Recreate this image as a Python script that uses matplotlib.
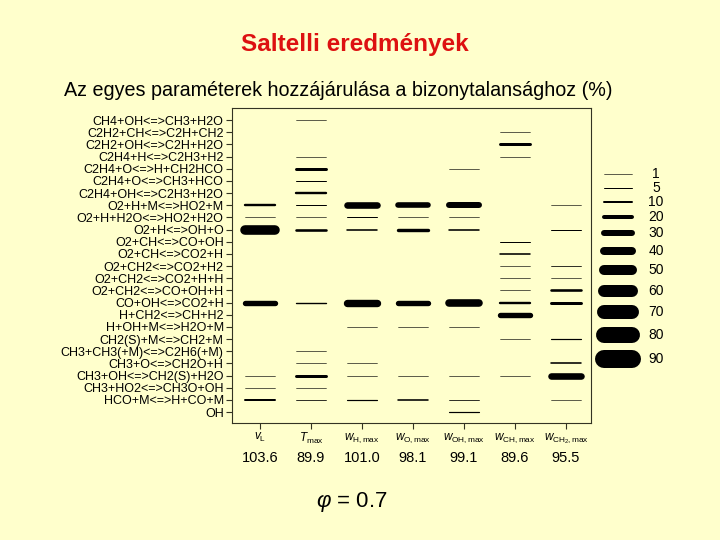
import matplotlib.pyplot as plt
import numpy as np

plt.rcParams['font.family'] = ['Liberation Sans', 'DejaVu Sans']
plt.rcParams['mathtext.fontset'] = 'custom'
plt.rcParams['mathtext.rm'] = 'Liberation Sans'
plt.rcParams['mathtext.it'] = 'Liberation Sans:italic'

# Reakciók (sorok)
reakciok = [
    "CH4+OH<=>CH3+H2O", "C2H2+CH<=>C2H+CH2", "C2H2+OH<=>C2H+H2O",
    "C2H4+H<=>C2H3+H2", "C2H4+O<=>H+CH2HCO", "C2H4+O<=>CH3+HCO",
    "C2H4+OH<=>C2H3+H2O", "O2+H+M<=>HO2+M", "O2+H+H2O<=>HO2+H2O",
    "O2+H<=>OH+O", "O2+CH<=>CO+OH", "O2+CH<=>CO2+H",
    "O2+CH2<=>CO2+H2", "O2+CH2<=>CO2+H+H", "O2+CH2<=>CO+OH+H",
    "CO+OH<=>CO2+H", "H+CH2<=>CH+H2", "H+OH+M<=>H2O+M",
    "CH2(S)+M<=>CH2+M", "CH3+CH3(+M)<=>C2H6(+M)", "CH3+O<=>CH2O+H",
    "CH3+OH<=>CH2(S)+H2O", "CH3+HO2<=>CH3O+OH", "HCO+M<=>H+CO+M", "OH",
]

# Oszlopok és összegek
oszlopok = [r"$v_\mathrm{L}$", r"$T_\mathrm{max}$", r"$w_\mathrm{H,max}$",
            r"$w_\mathrm{O,max}$", r"$w_\mathrm{OH,max}$", r"$w_\mathrm{CH,max}$",
            r"$w_{\mathrm{CH}_2\mathrm{,max}}$"]
osszeg = [103.6, 89.9, 101.0, 98.1, 99.1, 89.6, 95.5]

# Hozzájárulások (%) soronként, oszloponként
vL   = [0, 0, 0, 0, 0, 0, 0, 12, 3, 48, 0, 0, 0, 0, 0, 27, 0, 0, 0, 0, 0, 3, 1, 10, 0]
Tmax = [1, 0, 0, 1, 15, 5, 12, 5, 2, 13, 0, 0, 0, 0, 0, 7, 0, 0, 0, 2, 3, 15, 1, 4, 0]
wH   = [0, 0, 0, 0, 0, 0, 0, 33, 5, 8, 0, 0, 0, 0, 0, 37, 0, 3, 0, 0, 1, 3, 0, 6, 0]
wO   = [0, 0, 0, 0, 0, 0, 0, 28, 3, 17, 0, 0, 0, 0, 0, 27, 0, 3, 0, 0, 0, 1, 0, 8, 0]
wOH  = [0, 0, 0, 0, 1, 0, 0, 30, 3, 8, 0, 0, 0, 0, 0, 38, 0, 3, 0, 0, 0, 1, 0, 4, 6]
wCH  = [0, 2, 15, 1, 0, 0, 0, 0, 0, 0, 5, 8, 2, 1, 1, 12, 27, 0, 2, 0, 0, 3, 0, 0, 0]
wCH2 = [0, 0, 0, 0, 0, 0, 0, 2, 0, 5, 0, 0, 4, 2, 13, 15, 0, 0, 6, 0, 8, 33, 0, 2, 0]

jelmagyarazat = [1, 5, 10, 20, 30, 40, 50, 60, 70, 80, 90]

hozzajarulas = np.array([vL, Tmax, wH, wO, wOH, wCH, wCH2])

hatter = '#FFFFCC'
skala = 0.144  # pt / %


def vastagsag(v):
    return max(skala * v, 0.45)


fig = plt.figure(figsize=(7.2, 5.4), dpi=100, facecolor=hatter)

# Fő ábra
ax = fig.add_axes([232 / 720, 1 - 423 / 540, 359 / 720, 315 / 540])
ax.set_facecolor(hatter)
for j, sor in enumerate(hozzajarulas):
    x = j + 1
    for i, v in enumerate(sor):
        if v > 0:
            ax.plot([x - 0.3, x + 0.3], [i, i], color='black',
                    lw=vastagsag(v), solid_capstyle='round')

ax.set_xlim(0.45, 7.49)
ax.set_ylim(24.9, -1.0)
ax.set_yticks(range(len(reakciok)))
ax.set_yticklabels(reakciok, fontsize=9)
ax.set_xticks(range(1, len(oszlopok) + 1))
ax.set_xticklabels(oszlopok, fontsize=8.5)
ax.tick_params(axis='both', length=4, width=0.8, color='#333322', pad=2)
for s in ax.spines.values():
    s.set_linewidth(0.8)
    s.set_color('#333322')

for j, o in enumerate(osszeg):
    ax.text(j + 1, -0.11, f"{o:.1f}", transform=ax.get_xaxis_transform(),
            ha='center', va='center', fontsize=10.5)

# Jelmagyarázat
lax = fig.add_axes([595 / 720, 1 - 372 / 540, 75 / 720, 212 / 540])
lax.set_facecolor(hatter)
lax.axis('off')
poz = [0.0]
for a, b in zip(jelmagyarazat[:-1], jelmagyarazat[1:]):
    poz.append(poz[-1] + 13.2 + 0.065 * (a + b))
for v, y in zip(jelmagyarazat, poz):
    lax.plot([9, 37], [y, y], color='black', lw=vastagsag(v),
             solid_capstyle='round')
    lax.text(61, y, str(v), ha='center', va='center', fontsize=10)
lax.set_xlim(0, 75)
lax.set_ylim(198, -14)

# Feliratok
fig.text(355 / 720, 1 - 45 / 540, "Saltelli eredmények", color='#DD1111',
         fontsize=17.5, fontweight='bold', ha='center', va='center')
fig.text(338 / 720, 1 - 90 / 540,
         "Az egyes paraméterek hozzájárulása a bizonytalansághoz (%)",
         fontsize=14.2, ha='center', va='center')
fig.text(352 / 720, 1 - 502 / 540, r"$\varphi$ = 0.7", fontsize=16,
         ha='center', va='center')

fig.savefig("out.png", dpi=100, facecolor=hatter)
